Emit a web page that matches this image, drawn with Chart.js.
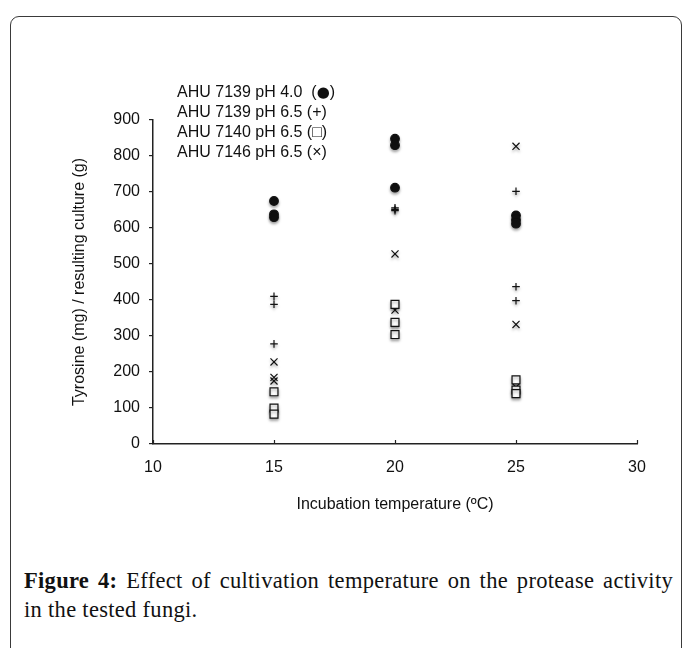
<!DOCTYPE html>
<html><head><meta charset="utf-8">
<script src="https://cdn.jsdelivr.net/npm/chart.js@4"></script>
<style>
html,body{margin:0;padding:0;background:#fff;}
body{width:683px;height:648px;position:relative;overflow:hidden;font-family:"Liberation Sans",Arial,sans-serif;}
#frame{position:absolute;left:10px;top:16px;width:672px;height:720px;border:1.5px solid #3a3a3a;border-radius:9px;box-sizing:border-box;}
#wrap{position:absolute;left:0;top:0;width:683px;height:540px;}
#legend{position:absolute;left:177px;top:82px;font-size:16px;line-height:20px;color:#111;white-space:pre;}
#legend .dot{font-family:"DejaVu Sans",sans-serif;font-size:15px;}
#caption{position:absolute;left:24px;top:566px;width:649px;font-family:"Liberation Serif",serif;font-size:22.5px;line-height:29px;letter-spacing:0.3px;color:#111;}
#caption .l1{text-align:justify;text-align-last:justify;white-space:nowrap;}
</style>
</head><body>
<div id="frame"></div>
<div id="wrap"><canvas id="c" width="683" height="540"></canvas></div>
<div id="legend">AHU 7139 pH 4.0  (<span class="dot">●</span>)
AHU 7139 pH 6.5 (+)
AHU 7140 pH 6.5 (□)
AHU 7146 pH 6.5 (×)</div>
<div id="caption"><div class="l1"><b>Figure 4:</b> Effect of cultivation temperature on the protease activity</div><div>in the tested fungi.</div></div>
<script>
// Data
const xTemps      = [15, 15, 15, 20, 20, 20, 25, 25, 25];
const ahu7139pH40 = [675, 638, 630, 848, 830, 712, 635, 622, 612];
const ahu7139pH65 = [410, 388, 278, 656, 652, 648, 702, 437, 398];
const ahu7140pH65 = [145, 100, 83, 388, 338, 304, 178, 150, 140];
const ahu7146pH65 = [228, 185, 175, 528, 372, 335, 827, 332, 158];
const xTicks = {min: 10, max: 30, step: 5};
const yTicks = {min: 0, max: 900, step: 100};

function ds(label, ys, style, radius, fill) {
  return {
    label, data: ys.map((y, i) => ({x: xTemps[i], y})),
    pointStyle: style, pointRadius: radius, pointHoverRadius: radius,
    borderColor: '#111', backgroundColor: fill, borderWidth: 1.2, showLine: false
  };
}

const shadowPlugin = {
  id: 'shadow',
  beforeDatasetsDraw(chart) {
    const ctx = chart.ctx; ctx.save();
    ctx.shadowColor = 'rgba(0,0,0,0.35)'; ctx.shadowBlur = 3; ctx.shadowOffsetY = 2;
  },
  afterDatasetsDraw(chart) { chart.ctx.restore(); }
};
const innerTicks = {
  id: 'innerTicks',
  afterDraw(chart) {
    const {ctx, scales: {x, y}} = chart;
    ctx.save(); ctx.strokeStyle = '#222'; ctx.lineWidth = 1.2;
    x.ticks.forEach(t => {
      const px = Math.round(x.getPixelForValue(t.value)) + 0.5;
      ctx.beginPath(); ctx.moveTo(px, y.bottom); ctx.lineTo(px, y.bottom - 4); ctx.stroke();
    });
    ctx.restore();
  }
};

const font = {family: '"Liberation Sans", Arial, sans-serif', size: 16};
new Chart(document.getElementById('c'), {
  type: 'scatter',
  data: {datasets: [
    ds('AHU 7139 pH 4.0', ahu7139pH40, 'circle', 4.3, '#111'),
    ds('AHU 7139 pH 6.5', ahu7139pH65, 'cross', 3.8, '#111'),
    ds('AHU 7140 pH 6.5', ahu7140pH65, 'rect', 5.6, '#fff'),
    ds('AHU 7146 pH 6.5', ahu7146pH65, 'crossRot', 5, '#111')
  ]},
  options: {
    responsive: false, animation: false, devicePixelRatio: 1,
    layout: {padding: {left: 70, right: 46, top: 120, bottom: 26}},
    plugins: {legend: {display: false}, tooltip: {enabled: false}},
    scales: {
      x: {
        type: 'linear', min: xTicks.min, max: xTicks.max,
        ticks: {stepSize: xTicks.step, font, color: '#111', padding: 6, maxRotation: 0},
        grid: {display: false},
        border: {display: true, color: '#222', width: 1.5},
        title: {display: true, text: 'Incubation temperature (ºC)', font, color: '#111', padding: 0},
        afterFit(s) { s.height = 70; }
      },
      y: {
        min: yTicks.min, max: yTicks.max,
        ticks: {stepSize: yTicks.step, font, color: '#111', padding: 9},
        grid: {display: true, drawOnChartArea: false, drawTicks: true, tickLength: 4, color: '#222', lineWidth: 1.2},
        border: {display: true, color: '#222', width: 1.5},
        title: {display: true, text: 'Tyrosine (mg) / resulting culture (g)', font, color: '#111', padding: 0},
        afterFit(s) { s.width = 83; }
      }
    }
  },
  plugins: [shadowPlugin, innerTicks]
});
</script>
</body></html>
